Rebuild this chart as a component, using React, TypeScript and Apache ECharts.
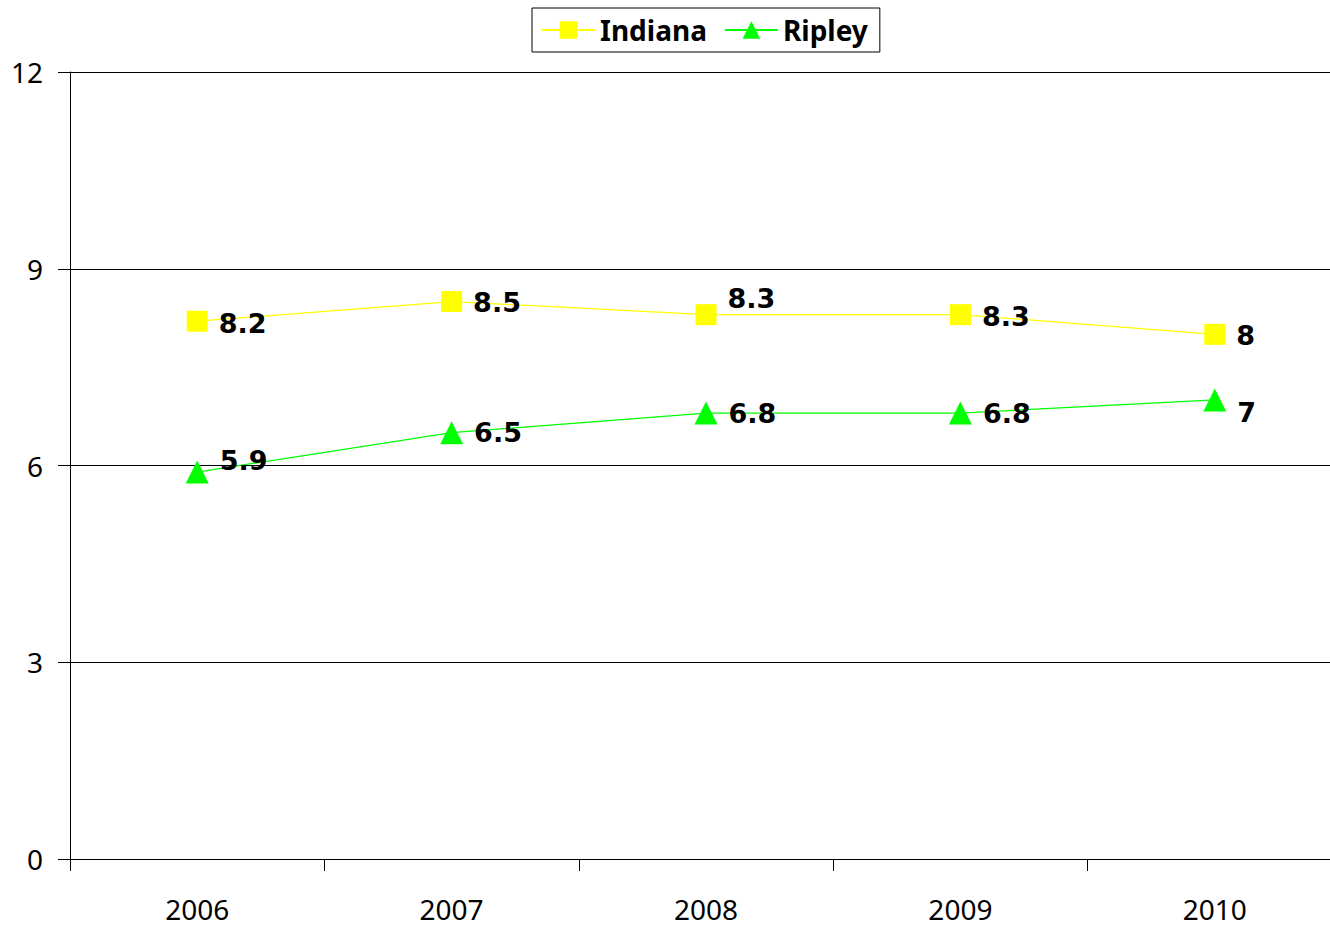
import React, { useEffect, useRef } from "react";
import * as echarts from "echarts";

const years = ["2006", "2007", "2008", "2009", "2010"];
const indiana = [8.2, 8.5, 8.3, 8.3, 8.0];
const ripley = [5.9, 6.5, 6.8, 6.8, 7.0];
const indianaLabelDy = [2, 1, -16, 2, 1];
const ripleyLabelDy = [-12, 0, 0, 0, 13];

const FONT = "Noto Sans";
const LABEL_FONT = "DejaVu Sans";

export default function App() {
  const ref = useRef<HTMLDivElement>(null);
  useEffect(() => {
    document.body.style.margin = "0";
    const chart = echarts.init(ref.current!, null, { renderer: "svg" });
    const mk = (vals: number[], dys: number[]) =>
      vals.map((v, i) => ({ value: v, label: { offset: [0, dys[i]] } }));
    const label = {
      show: true,
      position: "right" as const,
      distance: 11,
      fontFamily: LABEL_FONT,
      fontWeight: "bold" as const,
      fontSize: 27,
      color: "#000",
      formatter: (p: any) => String(p.value),
    };
    chart.setOption({
      animation: false,
      backgroundColor: "#fff",
      textStyle: { fontFamily: FONT },
      legend: {
        top: 8,
        left: 532,
        padding: [8, 12, 8, 9],
        itemGap: 17,
        itemWidth: 53,
        itemHeight: 22,
        borderColor: "#000",
        borderWidth: 1,
        textStyle: { fontFamily: FONT, fontWeight: "bold", fontSize: 28, color: "#000" },
        data: ["Indiana", "Ripley"],
      },
      grid: {
        left: 70,
        right: -12,
        top: 72,
        bottom: 68,
        containLabel: false,
        outerBoundsMode: "none",
      },
      xAxis: {
        type: "category",
        data: years,
        boundaryGap: true,
        axisLine: { lineStyle: { color: "#000", width: 1 } },
        axisTick: { show: true, length: 12, lineStyle: { color: "#000" } },
        axisLabel: { color: "#000", fontSize: 28, fontFamily: FONT, margin: 36 },
      },
      yAxis: {
        type: "value",
        min: 0,
        max: 12,
        interval: 3,
        axisLine: { show: true, lineStyle: { color: "#000", width: 1 } },
        axisTick: { show: true, length: 12, lineStyle: { color: "#000" } },
        axisLabel: { color: "#000", fontSize: 28, fontFamily: FONT, margin: 27 },
        splitLine: { show: true, lineStyle: { color: "#000", width: 1 } },
      },
      series: [
        {
          name: "Indiana",
          type: "line",
          data: mk(indiana, indianaLabelDy),
          symbol: "rect",
          symbolSize: 21,
          itemStyle: { color: "#FFFF00" },
          lineStyle: { color: "#FFFF00", width: 1.2 },
          label,
        },
        {
          name: "Ripley",
          type: "line",
          data: mk(ripley, ripleyLabelDy),
          symbol: "triangle",
          symbolSize: 23,
          itemStyle: { color: "#00FF00" },
          lineStyle: { color: "#00FF00", width: 1.2 },
          label,
        },
      ],
    });
    return () => chart.dispose();
  }, []);
  return <div ref={ref} style={{ width: 1330, height: 927 }} />;
}
